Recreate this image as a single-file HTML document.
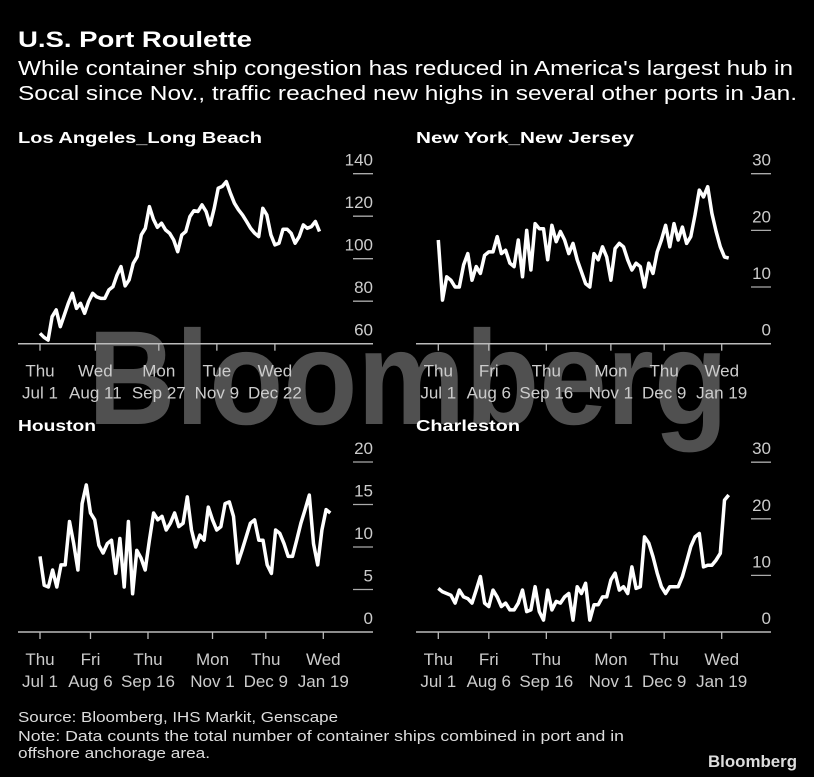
<!DOCTYPE html>
<html><head><meta charset="utf-8"><style>
html,body{margin:0;padding:0;background:#000;}
svg{display:block;font-family:"Liberation Sans",sans-serif;}
</style></head><body>
<svg id="chart" width="814" height="777" viewBox="0 0 814 777">
<rect width="814" height="777" fill="#000"/>
<text x="18" y="47" fill="#fff" font-size="22" font-weight="bold" textLength="234" lengthAdjust="spacingAndGlyphs">U.S. Port Roulette</text>
<text x="18" y="75" fill="#fff" font-size="20" textLength="775" lengthAdjust="spacingAndGlyphs">While container ship congestion has reduced in America's largest hub in</text>
<text x="18" y="100" fill="#fff" font-size="20" textLength="779" lengthAdjust="spacingAndGlyphs">Socal since Nov., traffic reached new highs in several other ports in Jan.</text>
<text x="88" y="424" fill="#505050" font-size="134" font-weight="bold" textLength="640" lengthAdjust="spacingAndGlyphs">Bloomberg</text>
<g id="panels"></g>
<text x="18" y="722" fill="#ddd" font-size="15" textLength="320" lengthAdjust="spacingAndGlyphs">Source: Bloomberg, IHS Markit, Genscape</text>
<text x="18" y="741" fill="#ddd" font-size="15" textLength="606" lengthAdjust="spacingAndGlyphs">Note: Data counts the total number of container ships combined in port and in</text>
<text x="18" y="758" fill="#ddd" font-size="15" textLength="192" lengthAdjust="spacingAndGlyphs">offshore anchorage area.</text>
<text x="708" y="767" fill="#ddd" font-size="17" font-weight="bold" textLength="89" lengthAdjust="spacingAndGlyphs">Bloomberg</text>
</svg>
<script>
const STEP_DAYS = 3;
const laValues = [64.9,63,61.7,72.7,75.9,68,73.5,79,83.7,76.6,79,74.3,79.8,83.7,82,81.3,81.3,85.3,86.8,92.3,96.3,87.2,90,97.8,101,111.2,114.3,124.5,118.6,114.8,116.7,113.5,112,108.8,103.3,111.2,112.8,119.8,122.6,122.2,125.3,122.2,115.9,123.7,133.2,134,136.3,130.8,126.1,123,120.6,117.5,114.3,112,110.4,123.7,120.6,111.2,106.5,107.3,113.9,113.9,112,107.3,110.4,115.9,114.3,115.1,117.5,112.8];
const nyValues = [18.3,7.7,11.8,11.2,10,10,13.9,15.9,11.2,13.6,12.4,15.6,16.2,16.2,18.9,15.9,16.5,14.2,13.6,18.3,11.8,20,13,21.2,20.3,20.3,14.8,20.9,18,19.8,18.3,15.9,17.7,14.8,12.7,10.6,10,15.9,14.8,17.1,15.3,11.2,16.8,17.7,17.1,14.8,13,14.2,13.6,10,14.2,12.4,16.2,18.3,20.9,17.1,21.2,18.3,20.6,17.7,18.9,22.7,27.1,25.9,27.7,23,19.8,17.1,15.3,15.1];
const houValues = [8.9,5.5,5.3,7.3,5.3,7.9,7.9,13,10.4,7.3,15.1,17.3,14,13.2,10.2,9.3,10.4,10.8,6.9,11,5.3,13,4.5,9.6,8.7,7.3,10.8,14,13.2,13.6,12,12.8,14,12.4,12.8,15.9,12,10,11.4,10.8,14.7,13.2,12,12.4,15.1,15.3,13.6,8.1,9.6,11.2,12.8,13.2,10.8,10.8,7.9,6.9,12,11.6,10.4,8.9,8.9,10.8,12.8,14.4,16.1,10.4,7.9,12,14.4,14];
const chsValues = [7.7,7.1,6.8,6.5,5.1,7.4,6.2,5.9,5.1,7.4,9.8,5.1,4.5,7.4,6.2,4.5,5.1,3.9,3.9,5.1,7.4,3.6,3.9,8,3.6,2.1,7.4,3.9,5.4,5.1,6.2,6.8,2.1,8,6.8,8.6,2.1,4.8,4.8,6.2,6.2,9.2,10.4,7.4,8,6.8,11.5,7.7,8,16.8,15.7,13.3,10.4,8,6.8,8,8,8,9.8,12.4,15.1,16.8,17.4,11.5,11.8,11.8,12.7,13.9,23.3,24.2];
const laTicks = [60,80,100,120,140];
const nyTicks = [0,10,20,30];
const houTicks = [0,5,10,15,20];
const chsTicks = [0,10,20,30];
const laXDays = [0,41,88,131,174];
const laXTop = ["Thu","Wed","Mon","Tue","Wed"];
const laXBot = ["Jul 1","Aug 11","Sep 27","Nov 9","Dec 22"];
const otherXDays = [0,36,77,123,161,202];
const otherXTop = ["Thu","Fri","Thu","Mon","Thu","Wed"];
const otherXBot = ["Jul 1","Aug 6","Sep 16","Nov 1","Dec 9","Jan 19"];

const NS = "http://www.w3.org/2000/svg";
const root = document.getElementById('panels');
function mk(tag, attrs, parent){const e=document.createElementNS(NS,tag);for(const k in attrs)e.setAttribute(k,attrs[k]);parent.appendChild(e);return e;}

function panel(cfg){
  const g = mk('g',{},root);
  
  
  const xs = d => cfg.x0 + d*cfg.dx;
  const ys = v => cfg.base - (v - cfg.vmin)*cfg.vs;
  const t = mk('text',{x:cfg.left,y:cfg.titleY,fill:'#fff','font-size':16,'font-weight':'bold',textLength:cfg.titleW,lengthAdjust:'spacingAndGlyphs'},g);
  t.textContent = cfg.title;
  
  
  cfg.ticks.forEach((v,i)=>{
    const y = ys(v);
    if(i>0){
      const l = mk('line',{x1:cfg.right-20,x2:cfg.right,y1:y,y2:y,stroke:'#aaa','stroke-width':1.3},g);
      
      
    }
    const tx = mk('text',{x:cfg.right,y:y-8,fill:'#ccc','font-size':17,'text-anchor':'end'},g);
    tx.textContent = v;
    
    
  });
  const b = mk('line',{x1:cfg.left,x2:cfg.right,y1:cfg.base,y2:cfg.base,stroke:'#bbb','stroke-width':1.5},g);
  
  
  cfg.xDays.forEach((d,i)=>{
    const x = xs(d);
    const tk = mk('line',{x1:x,x2:x,y1:cfg.base,y2:cfg.base+7,stroke:'#bbb','stroke-width':1.3},g);
    
    
    const a = mk('text',{x:x,y:cfg.base+33,fill:'#ccc','font-size':17,'text-anchor':'middle'},g);
    a.textContent = cfg.xTop[i];
    
    
    const c = mk('text',{x:x,y:cfg.base+55,fill:'#ccc','font-size':17,'text-anchor':'middle'},g);
    c.textContent = cfg.xBot[i];
    
    
  });
  const pts = cfg.values.map((v,i)=>xs(i*STEP_DAYS).toFixed(1)+','+ys(v).toFixed(1)).join(' ');
  const p = mk('polyline',{points:pts,fill:'none',stroke:'#fff','stroke-width':3.5,'stroke-linejoin':'round'},g);
  
  
}
panel({name:'los-angeles',title:'Los Angeles_Long Beach',titleW:244,left:18,right:373,titleY:143,base:343.7,vmin:60,vs:2.125,x0:40,dx:1.35,values:laValues,ticks:laTicks,xDays:laXDays,xTop:laXTop,xBot:laXBot});
panel({name:'new-york',title:'New York_New Jersey',titleW:218,left:416,right:771,titleY:143,base:343.7,vmin:0,vs:5.667,x0:438.3,dx:1.403,values:nyValues,ticks:nyTicks,xDays:otherXDays,xTop:otherXTop,xBot:otherXBot});
panel({name:'houston',title:'Houston',titleW:78,left:18,right:373,titleY:431,base:632,vmin:0,vs:8.5,x0:40,dx:1.4025,values:houValues,ticks:houTicks,xDays:otherXDays,xTop:otherXTop,xBot:otherXBot});
panel({name:'charleston',title:'Charleston',titleW:104,left:416,right:771,titleY:431,base:632,vmin:0,vs:5.66,x0:438.3,dx:1.403,values:chsValues,ticks:chsTicks,xDays:otherXDays,xTop:otherXTop,xBot:otherXBot});
</script>
</body></html>
